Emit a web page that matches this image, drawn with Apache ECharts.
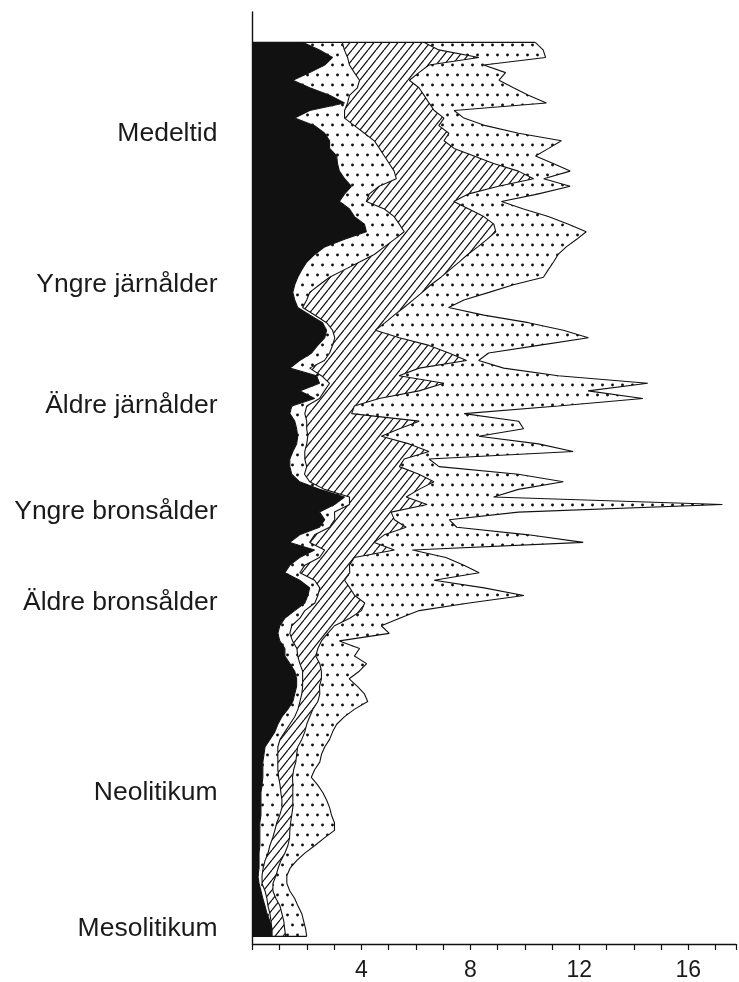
<!DOCTYPE html>
<html>
<head>
<meta charset="utf-8">
<script src="https://cdn.jsdelivr.net/npm/echarts@6/dist/echarts.min.js"></script>
<style>
  html, body { margin: 0; padding: 0; background: #fff; }
  #chart { width: 739px; height: 982px; }
</style>
</head>
<body>
<div id="chart"></div>
<script>
// Thickness of each stacked layer at every sample level, from the top (youngest) down to the oldest
const blackLayer = [
  1.84,2.46,2.94,2.65,2.10,1.48,2.10,2.83,3.38,2.10,
  1.55,2.28,2.65,2.83,2.83,3.09,3.12,3.19,3.38,3.63,
  3.38,3.19,3.56,3.74,4.11,4.18,3.38,2.65,2.28,1.99,
  1.81,1.66,1.55,1.48,1.55,1.66,2.10,2.57,2.72,2.65,
  2.39,2.17,1.73,1.37,2.35,2.46,1.73,2.28,1.44,1.37,
  1.55,1.62,1.66,1.62,1.48,1.37,1.37,1.44,1.73,2.46,
  3.38,3.01,2.46,2.65,2.46,1.73,1.37,2.28,1.73,1.37,
  1.19,1.73,2.10,2.03,1.92,1.55,1.19,1.00,0.93,1.00,
  1.19,1.19,1.37,1.55,1.62,1.62,1.55,1.48,1.30,1.08,
  0.93,0.82,0.64,0.46,0.42,0.38,0.38,0.38,0.35,0.31,
  0.31,0.31,0.31,0.27,0.27,0.27,0.27,0.24,0.24,0.24,
  0.20,0.24,0.31,0.38,0.46,0.53,0.64,0.71,0.71
];
const innerDots = [
  1.46,0.91,0.55,0.91,1.64,2.45,1.75,0.73,0.11,1.28,
  1.83,1.46,1.46,1.64,1.83,1.75,1.90,2.01,1.90,1.02,
  0.91,0.99,1.28,1.46,1.28,1.39,1.83,2.19,2.19,1.94,
  1.57,1.17,0.91,0.62,0.44,0.18,0.18,0.15,0.22,0.37,
  0.55,0.66,0.91,0.73,0.18,0.37,0.91,0.18,0.55,0.55,
  0.44,0.37,0.37,0.37,0.44,0.55,0.62,0.47,0.37,0.18,
  0.18,0.55,0.55,0.37,0.37,0.55,0.73,0.37,0.73,0.55,
  0.55,0.55,0.37,0.37,0.37,0.37,0.55,0.44,0.44,0.47,
  0.44,0.47,0.37,0.29,0.22,0.22,0.26,0.26,0.37,0.47,
  0.44,0.37,0.37,0.47,0.51,0.55,0.55,0.58,0.66,0.73,
  0.77,0.77,0.69,0.62,0.55,0.47,0.37,0.33,0.22,0.15,
  0.15,0.11,0.15,0.15,0.11,0.11,0.04,0,0
];
const hatched = [
  2.99,3.47,4.82,2.92,2.37,1.83,2.26,2.74,2.99,3.29,
  3.65,3.10,3.10,2.56,2.74,3.29,3.83,4.56,5.04,4.38,
  3.65,3.21,3.10,3.29,3.47,3.36,3.40,3.43,3.43,3.65,
  3.87,4.09,4.09,4.13,3.91,3.72,2.92,2.15,1.57,2.37,
  3.54,4.38,5.22,4.02,2.85,4.20,3.47,2.19,1.75,1.72,
  4.13,3.40,2.70,3.76,4.56,3.65,3.40,4.20,4.56,3.47,
  2.08,2.85,2.08,2.19,2.81,2.56,2.37,2.56,1.28,1.64,
  1.83,1.10,1.10,1.35,1.83,2.08,1.83,1.57,1.39,1.06,
  0.77,0.66,0.73,0.69,0.69,0.62,0.66,0.66,0.55,0.55,
  0.62,0.73,0.80,0.73,0.69,0.66,0.58,0.51,0.47,0.44,
  0.40,0.40,0.44,0.51,0.55,0.62,0.66,0.62,0.58,0.55,
  0.51,0.40,0.29,0.33,0.44,0.44,0.47,0.47,0.51
];
const outerDots = [
  4.09,3.83,2.45,2.01,3.18,3.29,3.47,3.83,4.31,0.73,
  0.73,1.72,2.56,4.31,3.47,2.26,2.19,1.90,0.37,2.63,
  2.56,1.75,2.01,2.37,2.74,3.32,3.29,3.25,3.32,3.47,
  3.61,3.76,3.03,2.45,1.86,1.64,3.29,5.26,6.90,6.94,
  4.02,1.46,0.44,3.10,5.84,7.48,6.21,9.68,7.48,4.13,
  3.65,4.56,3.58,4.75,5.29,0.91,1.46,3.65,4.75,3.65,
  3.21,10.84,4.67,2.01,1.86,5.29,7.67,0.66,3.36,4.20,
  4.75,3.29,4.93,6.21,3.83,2.12,1.83,1.72,2.26,0.66,
  1.53,1.42,1.72,1.39,1.02,1.39,1.64,1.83,1.53,1.28,
  1.10,1.02,1.02,0.99,0.91,0.88,0.77,0.69,0.91,1.10,
  1.24,1.35,1.46,1.61,1.64,1.28,0.99,0.73,0.58,0.44,
  0.40,0.51,0.62,0.69,0.66,0.73,0.73,0.77,0.77
];

// Cultural periods and the sample level each name is written against
const periodNames = ['Medeltid', 'Yngre järnålder', 'Äldre järnålder', 'Yngre bronsålder', 'Äldre bronsålder', 'Neolitikum', 'Mesolitikum'];
const periodLevels = [12, 32, 48, 62, 74, 99, 117];

// Labelled values on the horizontal axis
const xTickLabels = [4, 8, 12, 16];

// Empty levels above and below the profile so the axis runs past the samples
const PAD_TOP = 4;
const PAD_BOTTOM = 1;

const FONT = '"Liberation Sans", Arial, Helvetica, sans-serif';
const INK = '#111111';

function padded(arr) {
  return Array(PAD_TOP).fill('-').concat(arr, Array(PAD_BOTTOM).fill('-'));
}

// Staggered dot screen
function dotPattern() {
  const c = document.createElement('canvas');
  c.width = 10; c.height = 20;
  const g = c.getContext('2d');
  g.fillStyle = '#fff';
  g.fillRect(0, 0, 10, 20);
  g.fillStyle = INK;
  g.beginPath(); g.arc(2.5, 5, 1.45, 0, Math.PI * 2); g.fill();
  g.beginPath(); g.arc(7.5, 15, 1.45, 0, Math.PI * 2); g.fill();
  return { image: c, repeat: 'repeat' };
}

// Diagonal "/" hatching
function hatchPattern() {
  const w = 8, h = 10;
  const c = document.createElement('canvas');
  c.width = w; c.height = h;
  const g = c.getContext('2d');
  g.fillStyle = '#fff';
  g.fillRect(0, 0, w, h);
  g.strokeStyle = INK;
  g.lineWidth = 1.2;
  g.beginPath();
  for (const dx of [-w, 0, w]) {
    g.moveTo(dx, h);
    g.lineTo(dx + w, 0);
  }
  g.stroke();
  return { image: c, repeat: 'repeat' };
}

const nLevels = blackLayer.length;
const levelNames = [];
for (let i = 0; i < PAD_TOP + nLevels + PAD_BOTTOM; i++) levelNames.push(String(i));

const periodAt = {};
periodLevels.forEach((lv, k) => { periodAt[lv + PAD_TOP] = periodNames[k]; });

// Summed profile width at a level, used for the closing edges at top and bottom
function totalAt(i) {
  return blackLayer[i] + innerDots[i] + hatched[i] + outerDots[i];
}

function layer(name, data, fill) {
  return {
    name: name,
    type: 'line',
    stack: 'profile',
    data: padded(data),
    symbol: 'none',
    smooth: false,
    connectNulls: false,
    lineStyle: { color: INK, width: 1.1 },
    areaStyle: { color: fill, opacity: 1 },
    emphasis: { disabled: true },
    silent: true
  };
}

function edge(name, i) {
  return {
    name: name,
    type: 'line',
    data: [[0, PAD_TOP + i], [totalAt(i), PAD_TOP + i]],
    encode: { x: 0, y: 1 },
    symbol: 'none',
    lineStyle: { color: INK, width: 1.3 },
    emphasis: { disabled: true },
    silent: true,
    z: 3
  };
}

const chart = echarts.init(document.getElementById('chart'), null, { renderer: 'canvas' });
chart.setOption({
  animation: false,
  backgroundColor: '#fff',
  grid: { left: 252.5, right: 0, top: 12, bottom: 37, containLabel: false },
  xAxis: {
    type: 'value',
    min: 0,
    max: 17.75,
    interval: 1,
    axisLine: { show: true, lineStyle: { color: INK, width: 1.4 } },
    axisTick: { show: true, length: 6, lineStyle: { color: INK, width: 1.2 } },
    splitLine: { show: false },
    axisLabel: {
      margin: 15,
      fontFamily: FONT,
      fontSize: 23,
      color: '#1a1a1a',
      formatter: v => xTickLabels.includes(v) ? String(v) : ''
    }
  },
  yAxis: {
    type: 'category',
    inverse: true,
    boundaryGap: false,
    data: levelNames,
    axisLine: { show: true, lineStyle: { color: INK, width: 1.4 } },
    axisTick: { show: false },
    splitLine: { show: false },
    axisLabel: {
      interval: 0,
      margin: 35,
      fontFamily: FONT,
      fontSize: 26.5,
      color: '#1a1a1a',
      formatter: (v, idx) => periodAt[idx] || ''
    }
  },
  series: [
    layer('black', blackLayer, INK),
    layer('innerDots', innerDots, dotPattern()),
    layer('hatched', hatched, hatchPattern()),
    layer('outerDots', outerDots, dotPattern()),
    edge('topEdge', 0),
    edge('bottomEdge', nLevels - 1)
  ]
});
</script>
</body>
</html>
